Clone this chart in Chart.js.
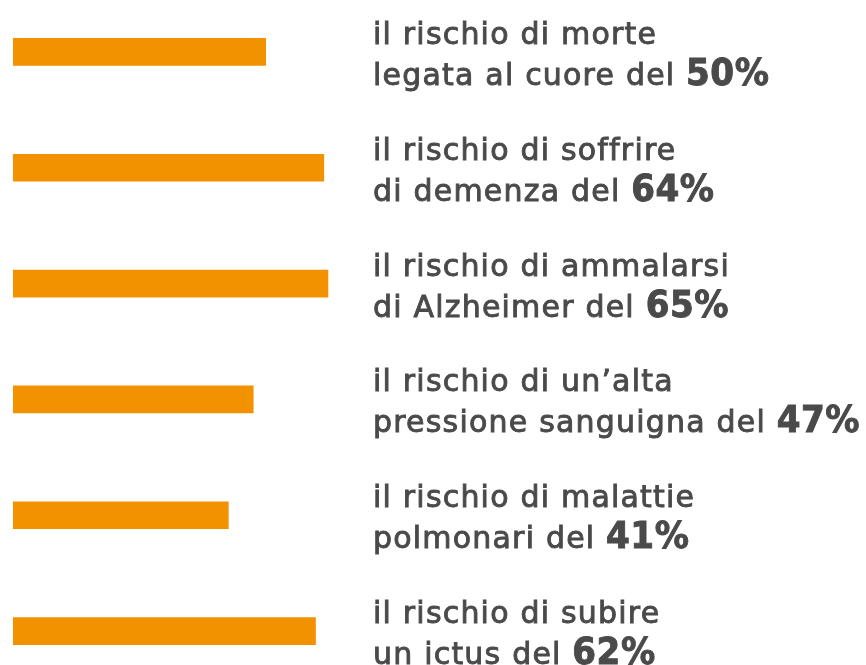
<!DOCTYPE html>
<html lang="it">
<head>
  <meta charset="UTF-8">
  <title>Rischi per la salute</title>
  <script src="https://cdn.jsdelivr.net/npm/chart.js"></script>
  <style>
    html, body {
      margin: 0;
      padding: 0;
      background: #fff;
      overflow: hidden;
      width: 866px;
      height: 665px;
    }
    #wrap {
      position: relative;
      width: 866px;
      height: 665px;
      overflow: hidden;
    }
    canvas {
      position: absolute;
      left: 0;
      top: -6px;
    }
  </style>
</head>
<body>
  <div id="wrap">
    <canvas id="chart" width="866" height="695"></canvas>
  </div>
  <script>
    // dati
    const categories = ['morte cuore', 'demenza', 'Alzheimer', 'pressione', 'polmoni', 'ictus'];
    const line1 = [
      'il rischio di morte',
      'il rischio di soffrire',
      'il rischio di ammalarsi',
      'il rischio di un\u2019alta',
      'il rischio di malattie',
      'il rischio di subire'
    ];
    const line2 = [
      'legata al cuore del',
      'di demenza del',
      'di Alzheimer del',
      'pressione sanguigna del',
      'polmonari del',
      'un ictus del'
    ];
    const values = [50, 64, 65, 47, 41, 62];

    const textColor = '#4a4a4a';
    const regularFont = '30px "DejaVu Sans", sans-serif';
    const boldFont = 'bold 38px "DejaVu Sans Condensed", "DejaVu Sans", sans-serif';

    // testo un po' piu' marcato, come nell'originale
    function drawText(ctx, str, x, y) {
      ctx.fillText(str, x, y);
      ctx.strokeText(str, x, y);
    }

    // scrive le due righe di testo accanto a ogni barra
    const sideText = {
      id: 'sideText',
      afterDatasetsDraw(chart) {
        const ctx = chart.ctx;
        const meta = chart.getDatasetMeta(0);
        ctx.save();
        ctx.fillStyle = textColor;
        ctx.strokeStyle = textColor;
        ctx.lineWidth = 0.9;
        ctx.textBaseline = 'alphabetic';
        ctx.textAlign = 'left';
        meta.data.forEach((bar, i) => {
          const x = 373;
          const y = bar.y;
          ctx.font = regularFont;
          ctx.letterSpacing = '1.2px';
          drawText(ctx, line1[i], x, y - 8);
          const prefix = line2[i] + ' ';
          drawText(ctx, prefix, x, y + 33);
          const w = ctx.measureText(prefix).width;
          ctx.font = boldFont;
          ctx.letterSpacing = '0.5px';
          drawText(ctx, values[i] + '%', x + w, y + 33);
        });
        ctx.restore();
      }
    };

    new Chart(document.getElementById('chart'), {
      type: 'bar',
      data: {
        labels: categories,
        datasets: [{
          data: values,
          backgroundColor: '#f39200',
          borderWidth: 0,
          barThickness: 27,
          base: -10.8
        }]
      },
      options: {
        indexAxis: 'y',
        responsive: false,
        animation: false,
        layout: { padding: 0 },
        scales: {
          x: { display: false, min: -14.0, max: 194.6 },
          y: { display: false }
        },
        plugins: {
          legend: { display: false },
          tooltip: { enabled: false }
        }
      },
      plugins: [sideText]
    });
  </script>
</body>
</html>
